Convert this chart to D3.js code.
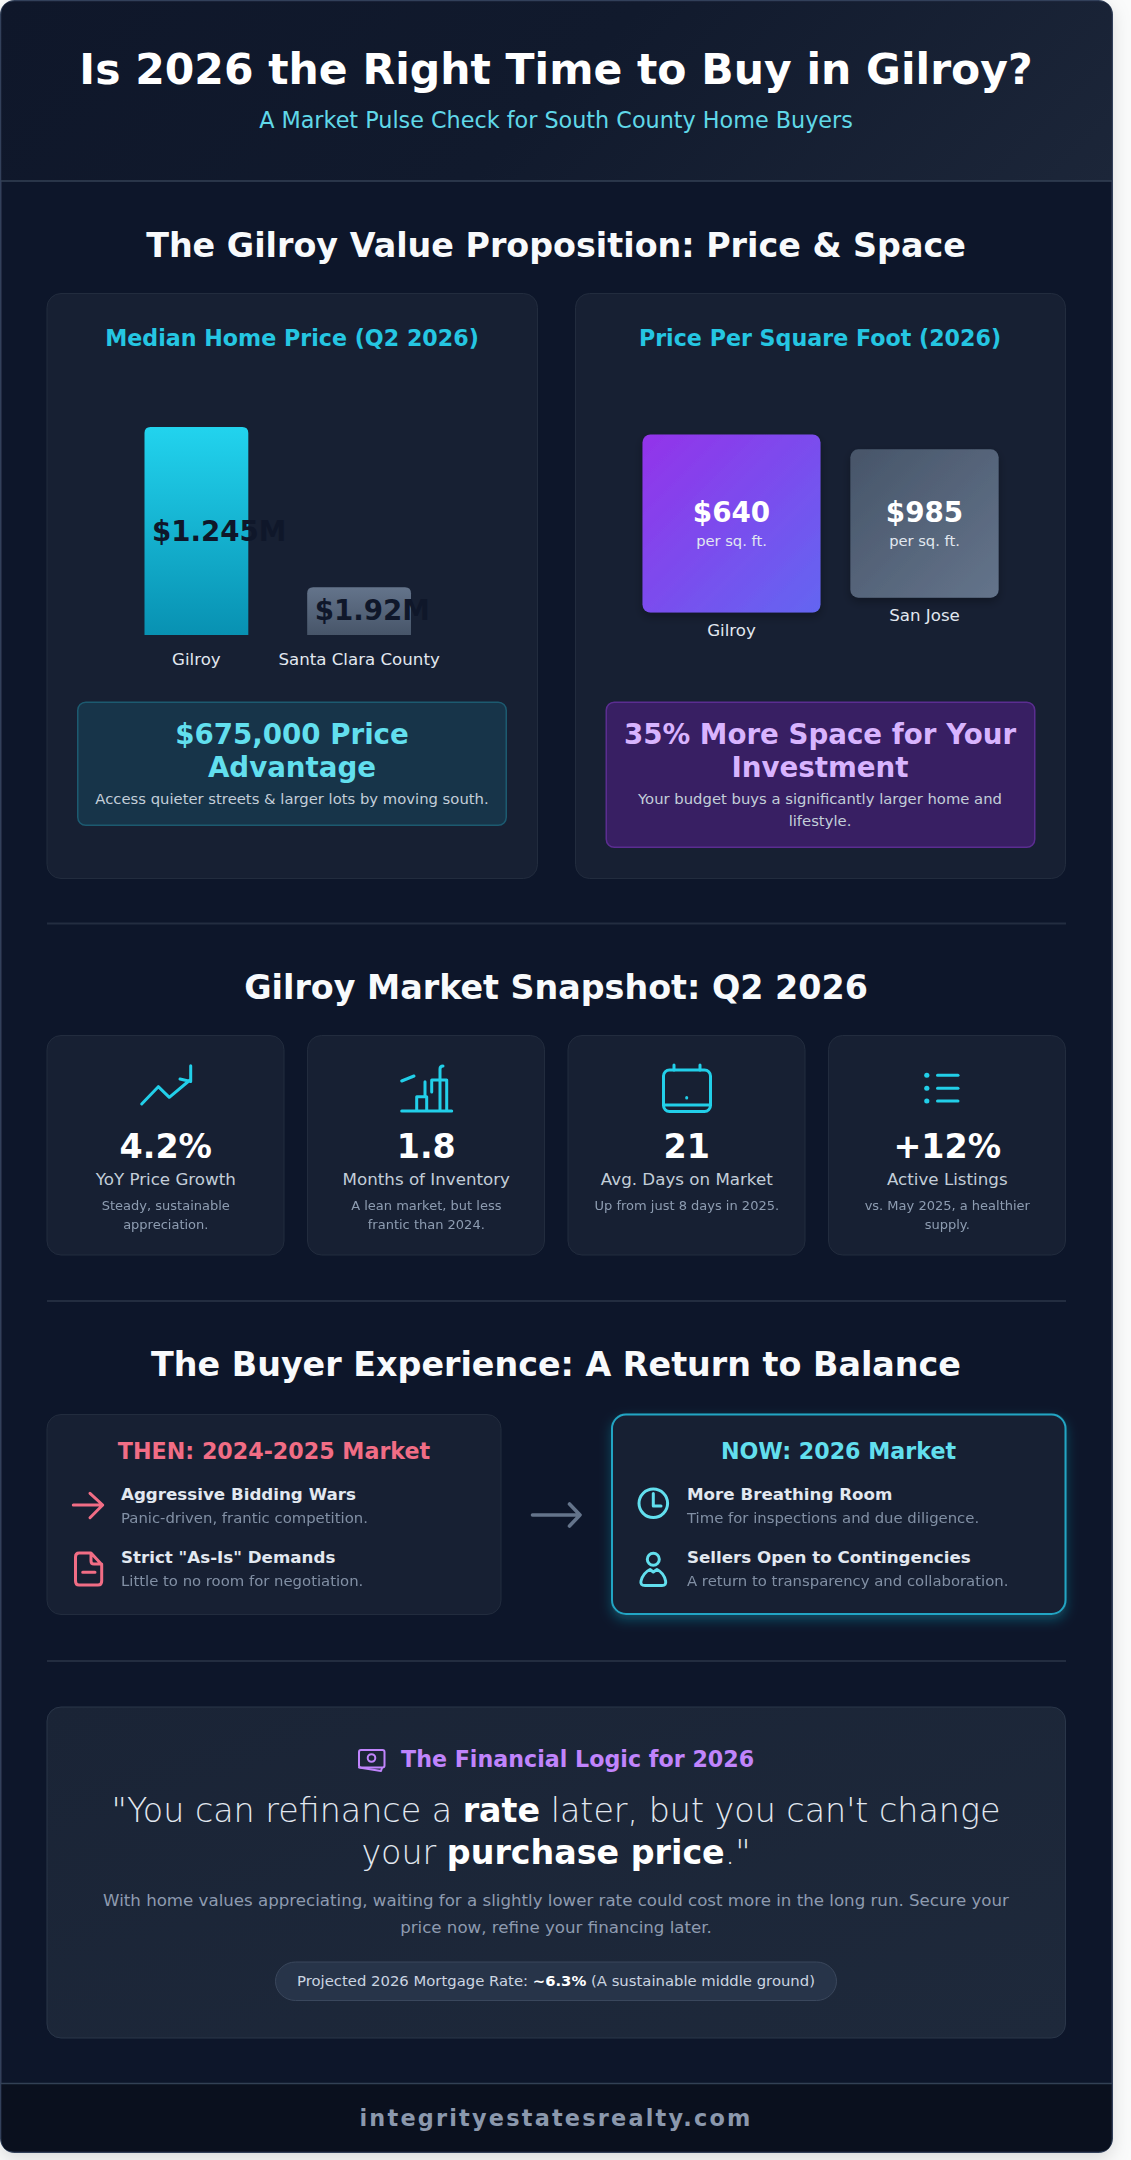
<!DOCTYPE html>
<html><head><meta charset="utf-8">
<script src="https://cdn.jsdelivr.net/npm/d3@7/dist/d3.min.js"></script>
<style>html,body{margin:0;padding:0;background:#fafbfb;overflow:hidden}svg{display:block}text{font-family:"DejaVu Sans",sans-serif}</style>
</head><body><div id="c"></div>
<script>
const medianCategories=["Gilroy","Santa Clara County"];
const medianLabels=["$1.245M","$1.92M"];
const medianBarShare=[100,23];
const sqftCategories=["Gilroy","San Jose"];
const sqftLabels=["$640","$985"];
const sqftBoxShare=[100,83.3];
const statValues=["4.2%","1.8","21","+12%"];
const statLabels=["YoY Price Growth","Months of Inventory","Avg. Days on Market","Active Listings"];
const statNotes=[["Steady, sustainable","appreciation."],["A lean market, but less","frantic than 2024."],["Up from just 8 days in 2025."],["vs. May 2025, a healthier","supply."]];
const thenItems=[["Aggressive Bidding Wars","Panic-driven, frantic competition."],["Strict \"As-Is\" Demands","Little to no room for negotiation."]];
const nowItems=[["More Breathing Room","Time for inspections and due diligence."],["Sellers Open to Contingencies","A return to transparency and collaboration."]];

const W=1131,H=2160;
const svg=d3.select("#c").append("svg").attr("width",W).attr("height",H).attr("viewBox",`0 0 ${W} ${H}`);
const defs=svg.append("defs");
function grad(id,x1,y1,x2,y2,stops,user){const g=defs.append("linearGradient").attr("id",id).attr("x1",x1).attr("y1",y1).attr("x2",x2).attr("y2",y2);
 if(user)g.attr("gradientUnits","userSpaceOnUse");
 stops.forEach(s=>g.append("stop").attr("offset",s[0]).attr("stop-color",s[1]));}
grad("hdr",233,-233,879,413,[[0,"#0f172a"],[.5,"#111a2d"],[1,"#1c2639"]],true);
grad("cy",0,0,0,1,[[0,"#22d3ee"],[1,"#0891b2"]]);
grad("sl",0,0,0,1,[[0,"#64748b"],[1,"#475569"]]);
grad("pu",0,0,1,1,[[0,"#9333ea"],[1,"#6366f1"]]);
grad("sl2",0,0,1,1,[[0,"#475569"],[1,"#64748b"]]);
grad("fin",0,0,1,1,[[0,"#1a2436"],[1,"#1e293b"]]);
const f1=defs.append("filter").attr("id","shadow").attr("x","-5%").attr("y","-5%").attr("width","110%").attr("height","110%");
f1.append("feDropShadow").attr("dx",0).attr("dy",6).attr("stdDeviation",9).attr("flood-color","#000").attr("flood-opacity",.13);
const f2=defs.append("filter").attr("id","glow").attr("x","-10%").attr("y","-10%").attr("width","120%").attr("height","130%");
f2.append("feDropShadow").attr("dx",0).attr("dy",5).attr("stdDeviation",6).attr("flood-color","#22d3ee").attr("flood-opacity",.28);
const f3=defs.append("filter").attr("id","soft").attr("x","-15%").attr("y","-15%").attr("width","130%").attr("height","130%");
f3.append("feDropShadow").attr("dx",0).attr("dy",4).attr("stdDeviation",5).attr("flood-color","#000").attr("flood-opacity",.3);

function T(x,cy,s,size,fill,o={}){const t=svg.append("text").attr("x",x).attr("y",cy+size*0.36).attr("font-size",size).attr("fill",fill)
 .attr("text-anchor",o.anchor||"middle").attr("font-weight",o.w||400);
 if(o.ls)t.attr("letter-spacing",o.ls);
 if(o.op)t.attr("opacity",o.op);
 if(Array.isArray(s))s.forEach(p=>t.append("tspan").attr("font-weight",p[1]).attr("fill",p[2]||fill).text(p[0]));else t.text(s);return t;}
function R(x,y,w,h,r,fill,stroke,sw=1,extra={}){const a=svg.append("rect").attr("x",x+sw/2).attr("y",y+sw/2).attr("width",w-sw).attr("height",h-sw).attr("rx",r).attr("fill",fill);
 if(stroke)a.attr("stroke",stroke).attr("stroke-width",sw);
 if(extra.filter)a.attr("filter",extra.filter);return a;}
function L(x1,x2,y,c="#232d40",w=2){svg.append("line").attr("x1",x1).attr("x2",x2).attr("y1",y).attr("y2",y).attr("stroke",c).attr("stroke-width",w);}
function P(d,c,w=3,fill="none"){svg.append("path").attr("d",d).attr("fill",fill).attr("stroke",c).attr("stroke-width",w).attr("stroke-linecap","round").attr("stroke-linejoin","round");}

// container
R(0,0,1113,2153,14,"#0f172a","#33415a",1.5,{filter:"url(#shadow)"});
svg.append("path").attr("d","M1.5 181V14Q1.5 1.5 14 1.5H1099Q1111.5 1.5 1111.5 14V181Z").attr("fill","url(#hdr)");
L(1,1112,181,"#334155",1.5);
T(556,69,"Is 2026 the Right Time to Buy in Gilroy?",42.5,"#fff",{w:700});
T(556,120,"A Market Pulse Check for South County Home Buyers",22.3,"#60d8e8");
T(556,245,"The Gilroy Value Proposition: Price & Space",33.35,"#f8fafc",{w:700});
const card="#172033",cb="#222c3e",title="#25c6e2";
// cards
R(46.5,293,491.5,586,14,card,cb);R(575,293,491,586,14,card,cb);
T(292,338,"Median Home Price (Q2 2026)",22.2,title,{w:700});
T(820,338,"Price Per Square Foot (2026)",22.2,title,{w:700});

// median bars
const mx=d3.scaleBand().domain(medianCategories).range([144.5,411]).paddingInner(59/163).paddingOuter(0);
const my=d3.scaleLinear().domain([0,100]).range([635,427]);
const bars=svg.append("g");
medianCategories.forEach((c,i)=>{
 const x=mx(c),w=mx.bandwidth(),y=my(medianBarShare[i]),b=my(0),r=6;
 bars.append("path").attr("d",`M${x} ${b}V${y+r}Q${x} ${y} ${x+r} ${y}H${x+w-r}Q${x+w} ${y} ${x+w} ${y+r}V${b}Z`).attr("fill",i?"url(#sl)":"url(#cy)");
 T(x+7.5,(y+b)/2+(i?-1.5:0),medianLabels[i],27.7,"#0f172a",{anchor:"start",w:700});
 T(x+w/2,659,c,16.65,"#e2e8f0");
});
// sq ft boxes
const sx=d3.scalePoint().domain(sqftCategories).range([731.5,924.5]);
const ss=d3.scaleLinear().domain([0,100]).range([0,178]);
sqftCategories.forEach((c,i)=>{
 const s=ss(sqftBoxShare[i]),cx=sx(c),cy=523.5;
 R(cx-s/2,cy-s/2,s,s,8,i?"url(#sl2)":"url(#pu)",null,0,{filter:"url(#soft)"});
 T(cx,511.7,sqftLabels[i],27.8,"#fff",{w:700});
 T(cx,540.7,"per sq. ft.",14.7,"#e2e8f0");
 T(cx,cy+s/2+17.5,c,16.65,"#e2e8f0");
});
// callouts
R(77,701.5,430,124.5,8,"#173449","#1c5a70",1.5);
T(292,734,"$675,000 Price",27.7,"#62dfee",{w:700});
T(292,767.3,"Advantage",27.7,"#62dfee",{w:700});
T(292,799,"Access quieter streets & larger lots by moving south.",14.8,"#c3ced9");
R(605.5,701.5,430,146.5,8,"#381f63","#5b2d91",1.5);
T(820,734,"35% More Space for Your",27.7,"#d8b4fe",{w:700});
T(820,767.3,"Investment",27.7,"#d8b4fe",{w:700});
T(820,799,"Your budget buys a significantly larger home and",14.8,"#c3ced9");
T(820,820.7,"lifestyle.",14.8,"#c3ced9");

L(47,1066,923.5);
T(556,986.7,"Gilroy Market Snapshot: Q2 2026",33.35,"#f8fafc",{w:700});
const sxs=[46.5,307,567.5,828];
statValues.forEach((v,i)=>{
 const x=sxs[i],w=238,cx=x+w/2+.3;
 R(x,1035,w,220.5,14,card,cb);
 T(cx,1146,v,33.35,"#fff",{w:700});
 T(cx,1179,statLabels[i],16.7,"#c3ced9");
 statNotes[i].forEach((n,j)=>T(cx,1205.3+j*18.8,n,13,"#94a3b8",{op:.95}));
});
const ic="#22cfe9";
P("M141.7 1104L158.3 1086.7L169.3 1097.3L190 1080M190.7 1065.7V1081.5L180 1079",ic);
P("M401.7 1111H451.7M401.7 1081L414 1076M416.7 1111V1096.7H426.7V1111M425 1096.7V1081.7M431.7 1092V1080H446.7V1111M440 1111V1069Q440 1066 443 1066",ic);
svg.append("rect").attr("x",663.5).attr("y",1070).attr("width",47).attr("height",41.5).attr("rx",6).attr("fill","none").attr("stroke",ic).attr("stroke-width",3);
P("M674 1065V1070M700 1065V1070M664 1105H710",ic);P("M686.7 1097.5V1098",ic);
[1075.3,1088.3,1101].forEach(y=>{P(`M937.5 ${y}H958`,ic);P(`M926.7 ${y}H926.9`,ic,5);});

L(47,1066,1301);
T(556,1364,"The Buyer Experience: A Return to Balance",33.35,"#f8fafc",{w:700});
R(46.5,1414,455,201,14,card,cb);
R(611,1413.5,455.5,201.5,14,card,null,0,{filter:"url(#glow)"});
R(611,1413.5,455.5,201.5,14,card,"#22a5c4",2);
T(274,1451,"THEN: 2024-2025 Market",22.2,"#f16d85",{w:700});
T(838.5,1451,"NOW: 2026 Market",22.2,"#62dfee",{w:700});
[[thenItems,121],[nowItems,687]].forEach(([items,x])=>items.forEach((it,j)=>{
 T(x,1494+j*63.3,it[0],16.7,"#e2e8f0",{anchor:"start",w:700});
 T(x,1518+j*63,it[1],14.85,"#94a3b8",{anchor:"start",op:.85});
}));
P("M73.3 1505H102.7M90 1493.3L102.7 1505L90 1517.7","#f16d85");
P("M79 1553H91L101.7 1564.5V1581Q101.7 1585 98 1585H79Q75.5 1585 75.5 1581V1557Q75.5 1553 79 1553ZM91 1553V1561Q91 1564 94 1564H101.7M82.7 1572.3H95","#f16d85");
P("M532.5 1515H580M569.5 1504L580 1515L569.5 1526","#64748b",3.6);
svg.append("circle").attr("cx",653.3).attr("cy",1503.3).attr("r",14.3).attr("fill","none").attr("stroke","#62dfee").attr("stroke-width",3);
P("M653.3 1493.5V1506H661","#62dfee");
svg.append("circle").attr("cx",653.3).attr("cy",1559.3).attr("r",6).attr("fill","none").attr("stroke","#62dfee").attr("stroke-width",3);
P("M645 1585.5Q640 1585.5 641 1581Q643 1573 650 1569.5L653.3 1572L657 1569.5Q664 1573 665.6 1581Q666.5 1585.5 662 1585.5Z","#62dfee");

L(47,1066,1661);
R(46.5,1706.5,1019.5,332,14,"url(#fin)","#2a3649");
T(401,1759,"The Financial Logic for 2026",22.2,"#c084fc",{anchor:"start",w:700});
svg.append("rect").attr("x",359).attr("y",1750).attr("width",25.5).attr("height",17.5).attr("rx",2).attr("fill","none").attr("stroke","#c084fc").attr("stroke-width",2);
svg.append("circle").attr("cx",371.5).attr("cy",1758).attr("r",3.8).attr("fill","none").attr("stroke","#c084fc").attr("stroke-width",2);
P("M359 1767.5L381 1771L382 1768","#c084fc",2);
T(556,1810,[["\"You can refinance a ",200],["rate",700,"#fff"],[" later, but you can't change",200]],33.3,"#e2e8f0");
T(556,1852.3,[["your ",200],["purchase price",700,"#fff"],[".\"",200]],33.3,"#e2e8f0");
T(556,1900.3,"With home values appreciating, waiting for a slightly lower rate could cost more in the long run. Secure your",16.65,"#8e9bb0");
T(556,1926.7,"price now, refine your financing later.",16.65,"#8e9bb0");
R(275,1961.5,562,39.5,20,"#273449","#3a475c",1);
T(556,1980.7,[["Projected 2026 Mortgage Rate: ",400],["~6.3%",700,"#fff"],[" (A sustainable middle ground)",400]],14.83,"#cbd5e1");
// footer
svg.append("path").attr("d","M1.5 2084V2139Q1.5 2151.5 14 2151.5H1099Q1111.5 2151.5 1111.5 2139V2084Z").attr("fill","#0a101e");
L(1,1112,2083.5,"#334155",1.5);
T(556,2118.3,"integrityestatesrealty.com",22.4,"#8b98ad",{w:700,ls:2.2});
</script></body></html>
